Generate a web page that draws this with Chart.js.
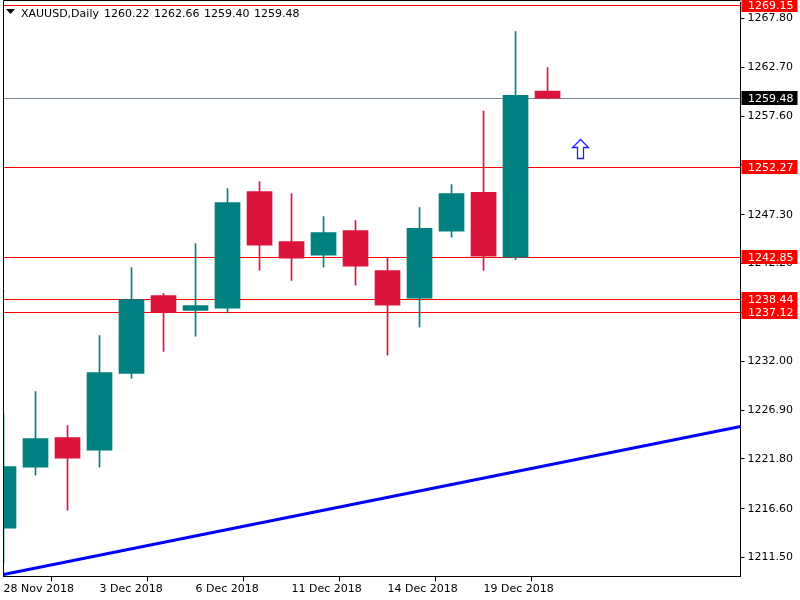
<!DOCTYPE html>
<html><head><meta charset="utf-8">
<script src="https://cdn.jsdelivr.net/npm/chart.js@4/dist/chart.umd.min.js"></script>
<style>html,body{margin:0;padding:0;background:#fff;overflow:hidden;} #wrap{width:800px;height:600px;}</style>
</head><body><div id="wrap"><canvas id="c" width="800" height="600"></canvas></div>
<script>
// ---- data ----
const symbol = 'XAUUSD,Daily';
const dates = ['28 Nov 2018','29 Nov 2018','30 Nov 2018','3 Dec 2018','4 Dec 2018','5 Dec 2018','6 Dec 2018','7 Dec 2018','10 Dec 2018','11 Dec 2018','12 Dec 2018','13 Dec 2018','14 Dec 2018','17 Dec 2018','18 Dec 2018','19 Dec 2018','20 Dec 2018','21 Dec 2018'];
const opens  = [1214.57,1220.94,1224.04,1222.71,1230.72,1238.87,1237.30,1237.54,1249.73,1244.51,1243.08,1245.66,1241.48,1238.59,1245.58,1249.63,1242.87,1260.22];
const highs  = [1226.51,1228.84,1225.29,1234.69,1241.79,1239.08,1244.30,1250.04,1250.77,1249.52,1247.12,1246.70,1242.80,1248.06,1250.46,1258.12,1266.44,1262.66];
const lows   = [1210.91,1220.10,1216.44,1220.93,1230.20,1233.02,1234.62,1237.09,1241.51,1240.43,1241.83,1239.94,1232.63,1235.56,1244.96,1241.48,1242.60,1259.40];
const closes = [1221.01,1223.93,1221.87,1230.83,1238.45,1237.09,1237.82,1248.58,1244.12,1242.76,1245.45,1241.93,1237.85,1245.87,1249.52,1242.97,1259.76,1259.48];
const yTickValues = [1267.80,1262.70,1257.60,1252.50,1247.30,1242.20,1237.10,1232.00,1226.90,1221.80,1216.60,1211.50];
const xTickIndexes = [0,3,6,9,12,15];
const levelPrices = [1269.15,1252.27,1242.85,1238.44,1237.12];
const bidPrice = 1259.48;
const trendX = [0, 23.03];
const trendY = [1209.73, 1225.18];
const arrowAt = {x: 18, y: 1254.2};

// ---- chart ----
const FONT = 'DejaVu Sans';
const bull = '#008080', bear = '#DC143C';
const candleColor = i => closes[i] >= opens[i] ? bull : bear;

const overlay = {
  id: 'overlay',
  beforeDatasetsDraw(chart) {
    const {ctx, chartArea: a, scales: {y}} = chart;
    ctx.save();
    ctx.lineWidth = 1;
    levelPrices.forEach(v => {
      const py = Math.round(y.getPixelForValue(v) - 0.5) + 0.5;
      ctx.strokeStyle = '#FF0000';
      ctx.beginPath(); ctx.moveTo(a.left, py); ctx.lineTo(a.right, py); ctx.stroke();
    });
    const pb = Math.round(y.getPixelForValue(bidPrice) - 0.5) + 0.5;
    ctx.strokeStyle = '#778899';
    ctx.beginPath(); ctx.moveTo(a.left, pb); ctx.lineTo(a.right, pb); ctx.stroke();
    ctx.restore();
  },
  afterDraw(chart) {
    const {ctx, chartArea: a, scales: {x, y}} = chart;
    ctx.save();
    // frame left/top
    ctx.strokeStyle = '#000'; ctx.lineWidth = 1;
    ctx.beginPath();
    ctx.moveTo(a.left, a.bottom); ctx.lineTo(a.left, 0.5); ctx.lineTo(a.right, 0.5);
    ctx.stroke();
    // price labels
    ctx.font = '11px "' + FONT + '"';
    ctx.textBaseline = 'middle';
    const box = (v, bg) => {
      const py = Math.round(y.getPixelForValue(v) - 0.5) + 0.5;
      ctx.fillStyle = bg;
      ctx.fillRect(a.right + 1, py - 7.5, 56, 14);
      ctx.fillStyle = '#fff';
      ctx.fillText(v.toFixed(2), a.right + 7.5, py + 0.5);
    };
    levelPrices.forEach(v => box(v, '#FF0000'));
    box(bidPrice, '#000');
    // header
    const last = opens.length - 1;
    ctx.fillStyle = '#000';
    ctx.beginPath(); ctx.moveTo(6, 9); ctx.lineTo(15, 9); ctx.lineTo(10.5, 14); ctx.closePath(); ctx.fill();
    ctx.textBaseline = 'alphabetic';
    ctx.fillText(symbol, 21, 17);
    [opens[last], highs[last], lows[last], closes[last]].forEach((v, k) => {
      ctx.fillText(v.toFixed(2), 104 + 50 * k, 17);
    });
    // arrow
    const cx = Math.round(x.getPixelForValue(arrowAt.x)) + 0.5;
    const cy = Math.round(y.getPixelForValue(arrowAt.y)) + 0.5;
    ctx.beginPath();
    ctx.moveTo(cx, cy - 10);
    ctx.lineTo(cx + 8, cy - 2);
    ctx.lineTo(cx + 3, cy - 2);
    ctx.lineTo(cx + 3, cy + 9);
    ctx.lineTo(cx - 3, cy + 9);
    ctx.lineTo(cx - 3, cy - 2);
    ctx.lineTo(cx - 8, cy - 2);
    ctx.closePath();
    ctx.fillStyle = '#fff'; ctx.fill();
    ctx.strokeStyle = '#2020ff'; ctx.lineWidth = 1.3; ctx.stroke();
    ctx.restore();
  }
};

new Chart(document.getElementById('c'), {
  type: 'bar',
  data: {
    datasets: [
      {
        type: 'line',
        data: trendX.map((v, i) => ({x: v, y: trendY[i]})),
        borderColor: '#0000FF', borderWidth: 3, pointRadius: 0, fill: false, order: 0
      },
      {
        data: dates.map((d, i) => ({x: i, y: [opens[i], closes[i]]})),
        backgroundColor: dates.map((d, i) => candleColor(i)),
        barThickness: 25, grouped: false, borderWidth: 0, order: 1
      },
      {
        data: dates.map((d, i) => ({x: i, y: [lows[i], highs[i]]})),
        backgroundColor: dates.map((d, i) => candleColor(i)),
        barThickness: 1, grouped: false, borderWidth: 0, order: 2
      }
    ]
  },
  options: {
    responsive: false, animation: false,
    layout: {padding: {left: 3.5, top: 2, right: 0, bottom: 0}},
    plugins: {legend: {display: false}, tooltip: {enabled: false}},
    scales: {
      x: {
        type: 'linear', offset: false, min: 0, max: 23.03,
        afterBuildTicks: ax => { ax.ticks = xTickIndexes.map(v => ({value: v})); },
        afterFit: ax => { ax.height = 23.5; ax.paddingLeft = 0; ax.paddingRight = 0; },
        grid: {drawOnChartArea: false, drawTicks: true, tickLength: 5, color: '#000'},
        border: {color: '#000'},
        ticks: {align: 'start', autoSkip: false, maxRotation: 0, padding: 1, color: '#000',
          font: {family: FONT, size: 11}, callback: v => dates[v]}
      },
      y: {
        position: 'right', min: 1209.52, max: 1269.52,
        afterBuildTicks: ax => { ax.ticks = yTickValues.map(v => ({value: v})); },
        afterFit: ax => { ax.width = 59.5; ax.paddingTop = 0; ax.paddingBottom = 0; },
        grid: {drawOnChartArea: false, drawTicks: true, tickLength: 4, color: '#000'},
        border: {color: '#000'},
        ticks: {autoSkip: false, padding: 3, color: '#000',
          font: {family: FONT, size: 11}, callback: v => Number(v).toFixed(2)}
      }
    }
  },
  plugins: [overlay]
});
</script>
</body></html>
